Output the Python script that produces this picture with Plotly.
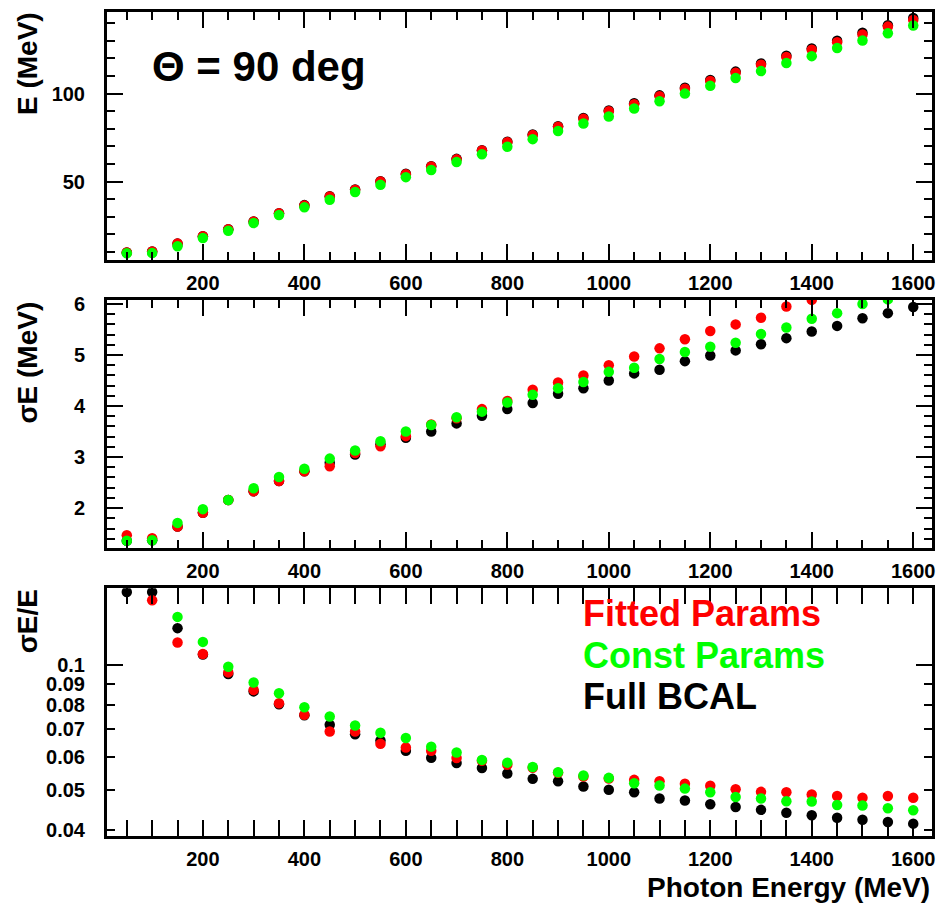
import plotly.graph_objects as go

# ---------------- data ----------------
energy = [50, 100, 150, 200, 250, 300, 350, 400, 450, 500, 550, 600, 650, 700, 750, 800,
          850, 900, 950, 1000, 1050, 1100, 1150, 1200, 1250, 1300, 1350, 1400, 1450, 1500, 1550, 1600]

E_full = [9.7, 10.2, 14.7, 18.9, 22.9, 27.3, 32.0, 36.6, 41.6, 45.5, 50.2, 54.4, 58.7, 62.9, 67.8, 72.6,
          76.8, 81.5, 86.1, 90.4, 94.5, 99.0, 103.3, 107.8, 112.5, 117.1, 121.5, 125.7, 130.1, 134.6, 138.9, 143.0]
E_fit = [9.6, 10.2, 14.8, 18.9, 22.8, 27.2, 31.9, 36.4, 41.5, 45.3, 50.0, 54.2, 58.5, 62.6, 67.6, 72.3,
         76.4, 81.1, 85.7, 90.0, 94.0, 98.5, 102.8, 107.2, 111.9, 116.4, 120.8, 124.9, 129.2, 133.6, 138.1, 141.9]
E_const = [9.2, 9.3, 13.2, 17.9, 22.0, 26.4, 31.0, 35.3, 39.6, 44.0, 48.1, 52.5, 56.6, 61.1, 65.5, 69.8,
           74.1, 78.7, 83.0, 87.0, 91.5, 95.6, 100.0, 104.4, 108.9, 112.8, 117.4, 121.3, 125.9, 130.2, 134.3, 138.7]

sE_full = [1.36, 1.37, 1.64, 1.91, 2.16, 2.33, 2.53, 2.72, 2.89, 3.05, 3.25, 3.38, 3.50, 3.66, 3.81, 3.94,
           4.06, 4.24, 4.35, 4.50, 4.64, 4.71, 4.88, 4.99, 5.09, 5.21, 5.33, 5.46, 5.57, 5.72, 5.82, 5.94]
sE_fit = [1.47, 1.41, 1.64, 1.91, 2.16, 2.33, 2.53, 2.72, 2.82, 3.08, 3.21, 3.41, 3.64, 3.76, 3.94, 4.10,
          4.32, 4.46, 4.60, 4.80, 4.97, 5.13, 5.31, 5.47, 5.60, 5.73, 5.95, 6.08, 6.25, 6.40, 6.68, 6.80]
sE_const = [1.36, 1.37, 1.71, 1.98, 2.16, 2.39, 2.61, 2.77, 2.97, 3.13, 3.31, 3.50, 3.63, 3.78, 3.89, 4.07,
            4.22, 4.35, 4.47, 4.67, 4.75, 4.92, 5.06, 5.16, 5.24, 5.41, 5.54, 5.71, 5.82, 6.00, 6.09, 6.20]

res_full = [0.150, 0.150, 0.1227, 0.1060, 0.0951, 0.0864, 0.0805, 0.0757, 0.0718, 0.0681, 0.0658, 0.0622,
            0.0598, 0.0581, 0.0565, 0.0548, 0.0532, 0.0525, 0.0510, 0.0501, 0.0494, 0.0477, 0.0472, 0.0462,
            0.0455, 0.0448, 0.0441, 0.0435, 0.0429, 0.0424, 0.0419, 0.0415]
res_fit = [0.165, 0.1433, 0.1133, 0.1063, 0.0960, 0.0871, 0.0809, 0.0759, 0.0692, 0.0692, 0.0646, 0.0633,
           0.0622, 0.0597, 0.0588, 0.0575, 0.0566, 0.0550, 0.0539, 0.0533, 0.0529, 0.0525, 0.0518, 0.0512,
           0.0502, 0.0495, 0.0494, 0.0488, 0.0484, 0.0479, 0.0484, 0.0479]
res_const = [0.162, 0.160, 0.1306, 0.1137, 0.0991, 0.0908, 0.0855, 0.0791, 0.0752, 0.0715, 0.0687, 0.0667,
             0.0636, 0.0616, 0.0591, 0.0582, 0.0568, 0.0552, 0.0542, 0.0535, 0.0519, 0.0513, 0.0504, 0.0494,
             0.0481, 0.0477, 0.0470, 0.0469, 0.0460, 0.0459, 0.0452, 0.0447]

series_names = ["Full BCAL", "Fitted Params", "Const Params"]
series_colors = ["#000000", "#ff0000", "#00ff00"]

x_tickvals = [200, 400, 600, 800, 1000, 1200, 1400, 1600]
log_tickvals = [0.04, 0.05, 0.06, 0.07, 0.08, 0.09, 0.1]
log_ticktext = ["0.04", "0.05", "0.06", "0.07", "0.08", "0.09", "0.1"]

# ---------------- figure ----------------
FONT = "Liberation Sans, Arial, Helvetica, sans-serif"
fig = go.Figure()

panels = [
    ("x", "y", [E_full, E_fit, E_const]),
    ("x2", "y2", [sE_full, sE_fit, sE_const]),
    ("x3", "y3", [res_full, res_fit, res_const]),
]
for xa, ya, ys in panels:
    for name, col, yv in zip(series_names, series_colors, ys):
        fig.add_trace(go.Scatter(
            x=energy, y=yv, mode="markers", name=name, xaxis=xa, yaxis=ya,
            marker=dict(color=col, size=10.5, line=dict(width=0)),
            showlegend=False, cliponaxis=True))

tickfont = dict(family=FONT, size=20, color="black", weight="bold")

def xaxis(anchor):
    return dict(
        anchor=anchor, domain=[0, 1], range=[11, 1637],
        tickmode="array", tickvals=x_tickvals, ticks="inside", ticklen=16, tickwidth=2,
        tickcolor="black", showline=True, linewidth=3, linecolor="black", mirror="allticks",
        showgrid=False, zeroline=False, tickfont=tickfont, ticklabelstandoff=3,
        minor=dict(dtick=50, tick0=0, ticks="inside", ticklen=8, tickwidth=2, tickcolor="black", showgrid=False),
    )

def yaxis(anchor, domain, rng, dtick, minor_dtick):
    return dict(
        anchor=anchor, domain=domain, range=rng, dtick=dtick, tick0=0,
        ticks="inside", ticklen=16, tickwidth=2, tickcolor="black",
        showline=True, linewidth=3, linecolor="black", mirror="allticks",
        showgrid=False, zeroline=False, tickfont=tickfont, ticklabelstandoff=15,
        minor=dict(dtick=minor_dtick, tick0=0, ticks="inside", ticklen=8, tickwidth=2,
                   tickcolor="black", showgrid=False),
    )

d_top = [0.6993, 1.0]
d_mid = [0.349, 0.651]
d_bot = [0.0, 0.3007]
log_range = [-1.4117, -0.815]

fig.update_layout(
    width=940, height=908,
    margin=dict(l=107, r=5, t=8, b=72),
    paper_bgcolor="white", plot_bgcolor="white",
    font=dict(family=FONT, color="black"),
    xaxis=xaxis("y"),
    xaxis2=xaxis("y2"),
    xaxis3=xaxis("y3"),
    yaxis=yaxis("x", d_top, [5.5, 146.4], 50, 10),
    yaxis2=yaxis("x2", d_mid, [1.21, 6.086], 1, 0.2),
    yaxis3=dict(
        anchor="x3", domain=d_bot, type="log", range=log_range,
        tickmode="array", tickvals=log_tickvals, ticktext=log_ticktext,
        ticks="inside", ticklen=8, tickwidth=2, tickcolor="black",
        showline=True, linewidth=3, linecolor="black", mirror="allticks",
        showgrid=False, zeroline=False, tickfont=tickfont, ticklabelstandoff=15,
    ),
    yaxis4=dict(
        overlaying="y3", anchor="x3", type="log", range=log_range,
        tickmode="array", tickvals=[0.1], ticks="inside", ticklen=16, tickwidth=2,
        tickcolor="black", showticklabels=False, showline=False, mirror="allticks",
        showgrid=False, zeroline=False,
    ),
    showlegend=False,
)

# empty trace so the overlay axis is drawn
fig.add_trace(go.Scatter(x=[], y=[], xaxis="x3", yaxis="y4", showlegend=False))

title_font = dict(family=FONT, size=28, color="black", weight="bold")

def ytitle(text, ypix):
    fig.add_annotation(text=text, xref="paper", yref="paper",
                       x=(27 - 107) / 828, y=(836 - ypix) / 828,
                       xanchor="center", yanchor="middle", textangle=-90,
                       showarrow=False, font=title_font)

ytitle("E (MeV)", 60)
ytitle("σE (MeV)", 360)
ytitle("σE/E", 620)

fig.add_annotation(text="Photon Energy (MeV)", xref="paper", yref="paper",
                   x=1.0, y=(836 - 888) / 828, xanchor="right", yanchor="middle",
                   showarrow=False, font=title_font)

fig.add_annotation(text="Θ = 90 deg", xref="paper", yref="paper",
                   x=(150 - 107) / 828, y=(836 - 63) / 828, xanchor="left", yanchor="middle",
                   showarrow=False, font=dict(family=FONT, size=42, color="black", weight="bold"))

legend_y = [612, 655, 696]
for name, col, yp in zip(["Fitted Params", "Const Params", "Full BCAL"],
                         ["#ff0000", "#00ff00", "#000000"], legend_y):
    fig.add_annotation(text=name, xref="paper", yref="paper",
                       x=(583 - 107) / 828, y=(836 - yp) / 828, xanchor="left", yanchor="middle",
                       showarrow=False, font=dict(family=FONT, size=36, color=col, weight="bold"))

fig.write_html("out.html")
